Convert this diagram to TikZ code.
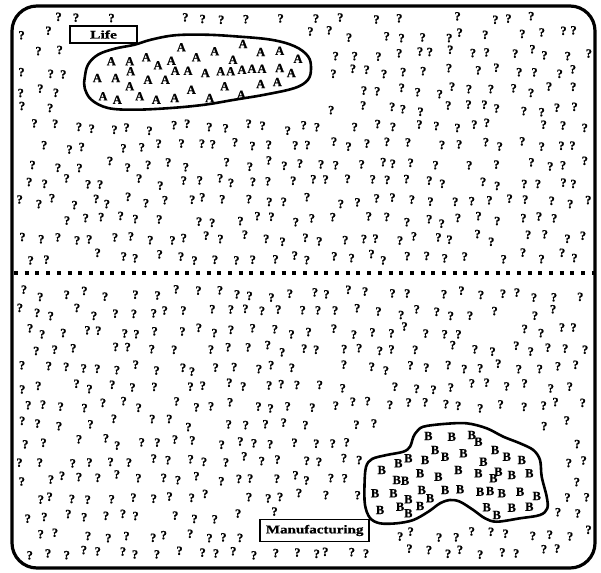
\documentclass[tikz,border=0pt]{standalone}
\usepackage{fontspec}
\setmainfont{Liberation Serif}
\newfontfamily\heavy{Liberation Serif}[BoldFeatures={FakeBold=0.8}]
\begin{document}
\begin{tikzpicture}[x=1pt,y=-1pt,
  qm/.style={font=\heavy\bfseries\fontsize{12.5}{12.5}\selectfont, inner sep=0pt},
  leta/.style={font=\heavy\bfseries\fontsize{12.5}{12.5}\selectfont, inner sep=0pt},
  letb/.style={font=\heavy\bfseries\fontsize{12.5}{12.5}\selectfont, inner sep=0pt},
  blob/.style={line width=2.6pt, fill=white, line join=round},
  lab/.style={draw, line width=1.8pt, fill=white, inner sep=0pt},
  frame/.style={line width=3.2pt, rounded corners=25pt},
  divider/.style={line width=4pt, dash pattern=on 4pt off 6.7pt}]
\useasboundingbox (0,0) rectangle (601,572);

% scattered question marks
\pgfmathsetseed{4242}
\foreach \r in {0,...,30} {
  \foreach \c in {0,...,30} {
    \pgfmathsetmacro\px{17 + \c*19 + mod(\r,2)*9.5 + 5.5*rand}
    \pgfmathsetmacro\py{16 + \r*18.5 + 4.2*rand}
    \pgfmathtruncatemacro\ok{(\px>19)&&(\px<589)&&(\py>15)&&(\py<562)
      && ((abs(\px-197)/128)^4+(abs(\py-72)/48)^4>1)
      && ((abs(\px-457)/97)^4+(abs(\py-472)/57)^4>1)
      && !((\px>62)&&(\px<145)&&(\py>19)&&(\py<50))
      && !((\px>252)&&(\px<377)&&(\py>512)&&(\py<549))
      && (abs(\py-273)>8)
      && !((\px<37)&&(\py<31)&&(veclen(\px-37,\py-31)>18))
      && !((\px>570)&&(\py<31)&&(veclen(\px-570,\py-31)>18))
      && !((\px<37)&&(\py>543)&&(veclen(\px-37,\py-543)>18))
      && !((\px>570)&&(\py>543)&&(veclen(\px-570,\py-543)>18))
      && (rnd>0.08)}
    \ifnum\ok=1
      \node[qm] (q\r-\c) at (\px,\py) {?};
    \fi
  }
}

% frame
\draw[frame] (12,6) rectangle (595,568);

% divider
\coordinate (dl) at (14,273);
\coordinate (dr) at (594,273);
\draw[divider] (dl) -- (dr);

% blob A
\draw[blob] plot[smooth cycle, tension=0.6] coordinates {
  (84.7,78) (88,64.7) (98,54.7) (114.7,48.7) (134.7,44.7) (151,39.7)
  (174.7,35.3) (204.7,34.7) (234.7,36.3) (271,39.7) (294.7,46.3)
  (308,56.3) (311,68) (308,79.7) (294.7,88) (264.7,94.7) (234.7,99.7)
  (204.7,104.7) (171,108) (134.7,109.7) (108,108) (91.3,99.7) (84.7,88)};

\foreach \i/\p in {1/{111.3,61.3},2/{129.7,61.3},3/{146.3,57.3},4/{158,65.3},
  5/{171.3,60.7},6/{181.3,47.3},7/{196.3,57.3},8/{214.7,51.3},9/{233,59.7},
  10/{243,44},11/{260.7,52},12/{279.7,50.7},13/{298,58.7},14/{97.3,78},
  15/{115.7,78},16/{130.7,71.3},17/{148,79.7},18/{165.3,79.7},19/{175.3,70.7},
  20/{188,70.7},21/{205.3,73},22/{220.7,71.3},23/{230.7,71.3},24/{242,69.7},
  25/{252,68.7},26/{262,68.7},27/{279.7,68},28/{291.3,73},29/{129.7,86.3},
  30/{191.3,89.7},31/{224.7,86.3},32/{260.7,84},33/{277.3,82},34/{103,96.3},
  35/{117.3,99.7},36/{139.7,96.3},37/{156.3,99.7},38/{174.7,98},39/{209.7,98},
  40/{241.3,94.7}}
  \node[leta] (a\i) at (\p) {A};

% blob B
\draw[blob] plot[smooth cycle, tension=0.55] coordinates {
  (416.7,431.7) (423.3,426.7) (443.3,424) (466.7,423.3) (486.7,428.3)
  (503.3,436.7) (520,443.3) (533.3,450) (540,460) (541.7,476.7)
  (546.7,496.7) (547.3,508.3) (540,515) (520,518.3) (496.7,521.7)
  (485,518.3) (473.3,510) (460,501.7) (450,500) (440,503.3) (428.3,511.7)
  (413.3,520) (396.7,523.3) (380,523.3) (370,518) (365,505) (364.5,485)
  (366,467) (372,459) (386.7,455) (403.3,451.7) (410,446.7) (413.3,437)};

\foreach \i/\p in {1/{428.3,436},2/{451.7,436.7},3/{471.7,435},4/{478.3,441.7},
  5/{408.3,458.3},6/{398.3,463.3},7/{425,460},8/{435,450},9/{445,456.7},
  10/{463.3,453.3},11/{483.3,461.7},12/{495,450},13/{506.7,456.7},14/{521.7,460},
  15/{381.7,470},16/{396.7,480},17/{405,480.7},18/{420,473.3},19/{438.3,476.7},
  20/{458.3,470},21/{478.3,473.3},22/{493.3,478.3},23/{498.3,471.7},24/{511.7,475},
  25/{529.3,473.3},26/{375,493.3},27/{393.3,493.3},28/{408.3,499.3},29/{421.7,490},
  30/{430,498.3},31/{445,490},32/{460,489.3},33/{480,491.7},34/{490,491},
  35/{501.7,493.3},36/{520,491.7},37/{536.7,496},38/{380,510},39/{400,506.7},
  40/{408.3,513.3},41/{420,506},42/{486.7,507.3},43/{496.7,515},44/{511.7,507.7},
  45/{529.3,506.7}}
  \node[letb] (b\i) at (\p) {B};

% labels
\node[lab, minimum width=67pt, minimum height=17pt,
  font=\heavy\bfseries\fontsize{11.5}{11.5}\selectfont] (life) at (103.5,34.5)
  {\scalebox{1.36}[1]{Life}};
\node[lab, minimum width=109pt, minimum height=22pt,
  font=\heavy\bfseries\fontsize{12}{12}\selectfont] (manuf) at (314.7,530.5)
  {\scalebox{1.25}[1]{Manufacturing}};
\end{tikzpicture}
\end{document}
